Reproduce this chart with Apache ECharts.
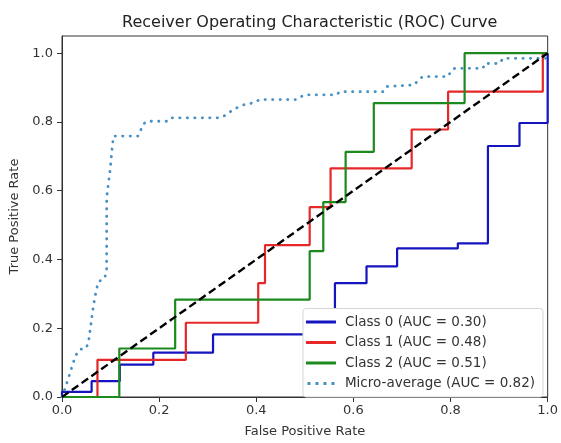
<!DOCTYPE html>
<html>
<head>
<meta charset="utf-8">
<script src="https://cdn.jsdelivr.net/npm/echarts@6/dist/echarts.min.js"></script>
<style>html,body{margin:0;padding:0;background:#fff}#c{width:561px;height:443px}</style>
</head>
<body>
<div id="c"></div>
<script>
var seriesNames = ['Class 0 (AUC = 0.30)', 'Class 1 (AUC = 0.48)', 'Class 2 (AUC = 0.51)', 'Micro-average (AUC = 0.82)'];
var xTicks = [0, 0.2, 0.4, 0.6, 0.8, 1.0];
var yTicks = [0, 0.2, 0.4, 0.6, 0.8, 1.0];

var class0Fpr = [0, 0, 0.061, 0.061, 0.119, 0.119, 0.188, 0.188, 0.311, 0.311, 0.562, 0.562, 0.627, 0.627, 0.69, 0.69, 0.815, 0.815, 0.877, 0.877, 0.942, 0.942, 1, 1];
var class0Tpr = [0, 0.015, 0.015, 0.046, 0.046, 0.094, 0.094, 0.129, 0.129, 0.182, 0.182, 0.331, 0.331, 0.38, 0.38, 0.432, 0.432, 0.447, 0.447, 0.73, 0.73, 0.797, 0.797, 1];

var class1Fpr = [0, 0.073, 0.073, 0.255, 0.255, 0.404, 0.404, 0.418, 0.418, 0.51, 0.51, 0.553, 0.553, 0.72, 0.72, 0.795, 0.795, 0.99, 0.99, 1];
var class1Tpr = [0, 0, 0.108, 0.108, 0.216, 0.216, 0.331, 0.331, 0.442, 0.442, 0.552, 0.552, 0.665, 0.665, 0.778, 0.778, 0.888, 0.888, 1, 1];

var class2Fpr = [0, 0.118, 0.118, 0.233, 0.233, 0.51, 0.51, 0.538, 0.538, 0.584, 0.584, 0.642, 0.642, 0.829, 0.829, 1];
var class2Tpr = [0, 0, 0.141, 0.141, 0.283, 0.283, 0.424, 0.424, 0.567, 0.567, 0.713, 0.713, 0.855, 0.855, 1, 1];

var microFpr = [0, 0.006, 0.016, 0.023, 0.03, 0.037, 0.047, 0.054, 0.064, 0.07, 0.075, 0.085, 0.092, 0.092, 0.099, 0.103, 0.106, 0.157, 0.167, 0.174, 0.219, 0.226, 0.325, 0.339, 0.352, 0.366, 0.38, 0.394, 0.407, 0.483, 0.49, 0.5, 0.565, 0.572, 0.661, 0.668, 0.726, 0.733, 0.743, 0.795, 0.802, 0.809, 0.867, 0.87, 0.901, 0.908, 1];
var microTpr = [0, 0.024, 0.067, 0.1, 0.125, 0.139, 0.139, 0.154, 0.259, 0.307, 0.336, 0.341, 0.36, 0.58, 0.66, 0.72, 0.759, 0.759, 0.793, 0.802, 0.802, 0.812, 0.812, 0.821, 0.836, 0.845, 0.853, 0.855, 0.865, 0.865, 0.872, 0.879, 0.879, 0.888, 0.888, 0.903, 0.908, 0.922, 0.932, 0.932, 0.951, 0.956, 0.956, 0.97, 0.97, 0.985, 0.985];

var diagX = [0, 1];
var diagY = [0, 1];

function pairs(xs, ys) { return xs.map(function (x, i) { return [x, ys[i]]; }); }

var FONT = 'DejaVu Sans';
var TXT = '#333';
var chart = echarts.init(document.getElementById('c'), null, {renderer: 'canvas'});
chart.setOption({
  animation: false,
  backgroundColor: '#fff',
  title: {
    text: 'Receiver Operating Characteristic (ROC) Curve',
    left: 117, top: 10,
    textStyle: {fontFamily: FONT, fontSize: 16, fontWeight: 'normal', color: '#222'}
  },
  grid: {left: 62, right: 13, top: 36, bottom: 43, show: true, borderColor: '#333', borderWidth: 1, backgroundColor: 'transparent'},
  xAxis: {
    type: 'value', min: 0, max: 1, interval: 0.2,
    name: 'False Positive Rate', nameLocation: 'middle', nameGap: 28,
    nameTextStyle: {fontFamily: FONT, fontSize: 13, color: TXT},
    axisLine: {show: true, lineStyle: {color: '#333', width: 1}},
    axisTick: {show: true, length: 5, lineStyle: {color: '#333'}, customValues: xTicks},
    axisLabel: {fontFamily: FONT, fontSize: 13, color: TXT, margin: 7, customValues: xTicks,
      formatter: function (v) { return v.toFixed(1); }},
    splitLine: {show: false}
  },
  yAxis: {
    type: 'value', min: 0, max: 1.05, interval: 0.2,
    name: 'True Positive Rate', nameLocation: 'middle', nameGap: 34,
    nameTextStyle: {fontFamily: FONT, fontSize: 13, color: TXT},
    axisLine: {show: true, lineStyle: {color: '#333', width: 1}},
    axisTick: {show: true, length: 5, lineStyle: {color: '#333'}, customValues: yTicks},
    axisLabel: {fontFamily: FONT, fontSize: 13, color: TXT, margin: 9, customValues: yTicks,
      formatter: function (v) { return v.toFixed(1); }},
    splitLine: {show: false}
  },
  legend: {
    orient: 'vertical', right: 18, bottom: 46,
    backgroundColor: '#fff', borderColor: '#d6d6d6', borderWidth: 1, borderRadius: 3,
    padding: [5, 8, 5, 3],
    itemWidth: 30, itemHeight: 3, itemGap: 3.5,
    textStyle: {fontFamily: FONT, fontSize: 13.5, color: TXT, lineHeight: 17, padding: [0, 0, 0, 4]},
    data: [
      {name: seriesNames[0], icon: 'rect'},
      {name: seriesNames[1], icon: 'rect'},
      {name: seriesNames[2], icon: 'rect'},
      {name: seriesNames[3], icon: 'path://M0,0h3v3h-3z M8,0h3v3h-3z M16,0h3v3h-3z M24,0h3v3h-3z'}
    ]
  },
  series: [
    {name: seriesNames[0], type: 'line', data: pairs(class0Fpr, class0Tpr), symbol: 'none', color: '#1414c0',
      lineStyle: {width: 2.2, color: '#1414c0'}, z: 2},
    {name: seriesNames[1], type: 'line', data: pairs(class1Fpr, class1Tpr), symbol: 'none', color: '#e62828',
      lineStyle: {width: 2.2, color: '#e62828'}, z: 3},
    {name: seriesNames[2], type: 'line', data: pairs(class2Fpr, class2Tpr), symbol: 'none', color: '#1c8a1c',
      lineStyle: {width: 2.2, color: '#1c8a1c'}, z: 4},
    {name: seriesNames[3], type: 'line', data: pairs(microFpr, microTpr), symbol: 'none', color: '#4690c4',
      lineStyle: {width: 2.8, color: '#4690c4', type: [0.3, 7.2], cap: 'round'}, z: 5},
    {name: 'diag', type: 'line', data: pairs(diagX, diagY), symbol: 'none', color: '#000',
      lineStyle: {width: 2.4, color: '#000', type: [8, 4]}, z: 6}
  ]
});
</script>
</body>
</html>
